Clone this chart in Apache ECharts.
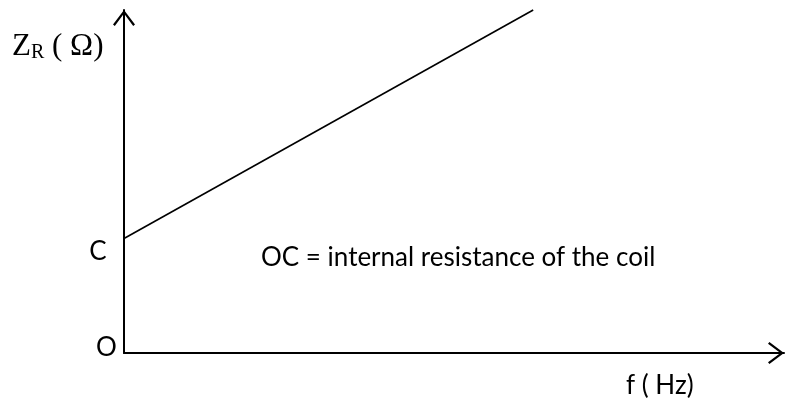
<!DOCTYPE html>
<html>
<head>
<meta charset="utf-8">
<script src="https://cdn.jsdelivr.net/npm/echarts@6/dist/echarts.min.js"></script>
<style>html,body{margin:0;padding:0;background:#fff;}#c{width:787px;height:403px;}</style>
</head>
<body>
<div id="c"></div>
<script>
// Data (arbitrary units)
const fValues = [0, 62];        // frequency f
const zrValues = [33.4, 100];   // Z_R; first value is OC (internal resistance)
const axisMax = [100, 100];     // x max, y max
const labels = {
  yName: ['Z', 'R', ' ( Ω)'],
  xName: 'f ( Hz)',
  c: 'C',
  o: 'O',
  note: 'OC = internal resistance of the coil'
};

const chev = 'path://M11,0 L22,14.6 L20.2,16 L11,3.6 L1.8,16 L0,14.6 Z';
const chart = echarts.init(document.getElementById('c'), null, {renderer: 'canvas'});
const axisLine = {
  show: true,
  symbol: ['none', chev],
  symbolSize: [22, 16],
  symbolOffset: [0, -8],
  lineStyle: {color: '#000', width: 2}
};
const sans = {fontFamily: 'Lato', fontSize: 26, fill: '#000'};
chart.setOption({
  animation: false,
  backgroundColor: '#fff',
  grid: {left: 124, right: 3, top: 10, bottom: 50, containLabel: false},
  xAxis: {
    type: 'value', min: 0, max: axisMax[0],
    axisLine: axisLine, axisTick: {show: false}, axisLabel: {show: false}, splitLine: {show: false}
  },
  yAxis: {
    type: 'value', min: 0, max: axisMax[1],
    axisLine: axisLine, axisTick: {show: false}, axisLabel: {show: false}, splitLine: {show: false}
  },
  series: [{
    type: 'line',
    data: fValues.map((f, i) => [f, zrValues[i]]),
    symbol: 'none',
    clip: false,
    lineStyle: {color: '#000', width: 1.6}
  }],
  graphic: [
    {type: 'text', x: 12, y: 47, style: {
      text: '{z|' + labels.yName[0] + '}{r|' + labels.yName[1] + '}{z|' + labels.yName[2] + '}',
      textVerticalAlign: 'middle',
      rich: {
        z: {fontFamily: 'Liberation Serif', fontSize: 31, fill: '#000', verticalAlign: 'bottom'},
        r: {fontFamily: 'Liberation Serif', fontSize: 20, fill: '#000', verticalAlign: 'bottom', padding: [0, 0, 0, 0]}
      }
    }},
    {type: 'text', x: 98, y: 252, style: Object.assign({text: labels.c, textAlign: 'center', textVerticalAlign: 'middle'}, sans)},
    {type: 'text', x: 106.5, y: 348, style: Object.assign({text: labels.o, textAlign: 'center', textVerticalAlign: 'middle'}, sans)},
    {type: 'text', x: 261, y: 258, style: Object.assign({text: labels.note, textAlign: 'left', textVerticalAlign: 'middle'}, sans)},
    {type: 'text', x: 626, y: 386, style: Object.assign({text: labels.xName, textAlign: 'left', textVerticalAlign: 'middle'}, sans)}
  ]
});
</script>
</body>
</html>
